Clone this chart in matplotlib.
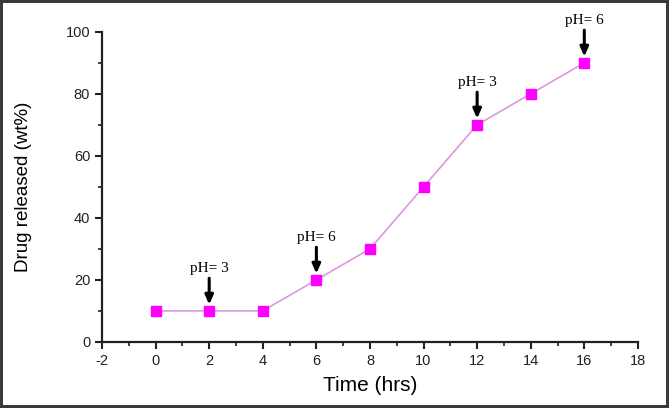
import matplotlib
matplotlib.use("Agg")
import matplotlib.pyplot as plt
from matplotlib.ticker import MultipleLocator

plt.rcParams["axes.unicode_minus"] = False

# --------------------------------------------------------------------------------------------------
# DATA:
time_hrs = [0, 2, 4, 6, 8, 10, 12, 14, 16]
drug_released = [10, 10, 10, 20, 30, 50, 70, 80, 90]

# pH switch annotations (time, label)
ph_times = [2, 6, 12, 16]
ph_labels = ["pH= 3", "pH= 6", "pH= 3", "pH= 6"]

# --------------------------------------------------------------------------------------------------
# FIGURE:
fig = plt.figure(figsize=(6.69, 4.08), dpi=100)
fig.patch.set_edgecolor("#3a3a3a")
fig.patch.set_linewidth(3)
ax = fig.add_axes([0.1525, 0.162, 0.801, 0.76])

ax.plot(time_hrs, drug_released, color="#dc98dc", lw=1.2, marker="s",
        markersize=7, markerfacecolor="#ff00ff", markeredgecolor="#ff00ff", zorder=3)

# arrows + pH labels above the matching points
for t, lab in zip(ph_times, ph_labels):
    y = drug_released[time_hrs.index(t)]
    ax.annotate(lab, xy=(t, y), xytext=(0, 26), textcoords="offset points",
                ha="center", va="bottom", fontsize=11, family="Liberation Serif",
                arrowprops=dict(arrowstyle="-|>,head_width=0.22,head_length=0.5",
                                lw=2.2, color="black", shrinkA=0.5, shrinkB=4.5))

# --------------------------------------------------------------------------------------------------
# AXES FORMATTING:
ax.set_xlim(-2, 18)
ax.set_ylim(0, 100)
ax.xaxis.set_major_locator(MultipleLocator(2))
ax.xaxis.set_minor_locator(MultipleLocator(1))
ax.yaxis.set_major_locator(MultipleLocator(20))
ax.yaxis.set_minor_locator(MultipleLocator(10))

for side in ["top", "right"]:
    ax.spines[side].set_visible(False)
for side in ["left", "bottom"]:
    ax.spines[side].set_linewidth(1.6)
    ax.spines[side].set_color("#222222")

ax.tick_params(which="major", direction="out", length=5, width=1.5, labelsize=10.5,
               colors="#222222")
ax.tick_params(which="minor", direction="out", length=3, width=1.2, colors="#222222")
for lab in ax.get_xticklabels() + ax.get_yticklabels():
    lab.set_family("Liberation Sans")

ax.set_xlabel("Time (hrs)", fontsize=15, family="Liberation Sans", labelpad=6)
ax.set_ylabel("Drug released (wt%)", fontsize=13.5, family="Liberation Sans", labelpad=24)

fig.savefig("out.png", dpi=100)
